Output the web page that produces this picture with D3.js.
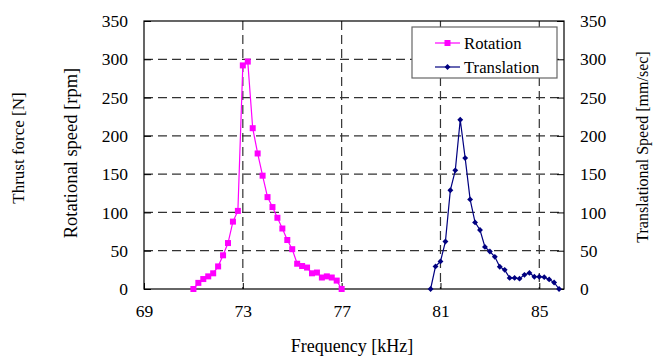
<!DOCTYPE html>
<html>
<head>
<meta charset="utf-8">
<script src="https://cdn.jsdelivr.net/npm/d3@7"></script>
<style>
  body { margin: 0; background: #fff; }
</style>
</head>
<body>
<script>
// values
var rotFreq = [71.0, 71.2, 71.4, 71.6, 71.8, 72.0, 72.2, 72.4, 72.6, 72.8,
               73.0, 73.2, 73.4, 73.6, 73.8, 74.0, 74.2, 74.4, 74.6, 74.8,
               75.0, 75.2, 75.4, 75.6, 75.8, 76.0, 76.2, 76.4, 76.6, 76.8, 77.0];
var rotSpeed = [0, 8, 13, 16.5, 20.5, 29.5, 44, 60, 88, 102,
                292, 297, 210, 177, 148, 120, 107, 93, 79, 64,
                52, 33, 30, 28, 20.5, 21.5, 15, 16.5, 15, 11, 0];

var transFreq = [80.6, 80.8, 81.0, 81.2, 81.4, 81.6, 81.8, 82.0, 82.2, 82.4,
                 82.6, 82.8, 83.0, 83.2, 83.4, 83.6, 83.8, 84.0, 84.2, 84.4,
                 84.6, 84.8, 85.0, 85.2, 85.4, 85.6, 85.8];
var transSpeed = [0, 29.5, 36, 62, 129, 155, 221, 171, 117, 87,
                  77, 55, 49, 42, 29, 25, 14.5, 14.5, 13.5, 18.5,
                  21, 16, 16, 15.5, 12.5, 8.5, 0];

var xTicks = [69, 73, 77, 81, 85];
var yTicks = [0, 50, 100, 150, 200, 250, 300, 350];
var seriesNames = ["Rotation", "Translation"];
var seriesColors = ["#ff00ff", "#000080"];

var width = 658
  , height = 356
  , plotL = 144
  , plotR = 564
  , plotT = 21
  , plotB = 289
  , serif = "'Liberation Serif', 'DejaVu Serif', serif"
  ;

var svg = d3.select("body").append("svg")
    .attr("width", width)
    .attr("height", height)
    .style("font-family", serif);

var x = d3.scaleLinear().domain([69, 86]).range([plotL, plotR]);
var y = d3.scaleLinear().domain([0, 350]).range([plotB, plotT]);

// dashed grid
svg.append("g").selectAll("line")
    .data(xTicks.filter(function (d) { return d > 69; }))
    .enter().append("line")
    .attr("x1", function (d) { return x(d); })
    .attr("x2", function (d) { return x(d); })
    .attr("y1", plotT)
    .attr("y2", plotB)
    .attr("stroke", "#333")
    .attr("stroke-width", 1.2)
    .attr("stroke-dasharray", "9,5");

svg.append("g").selectAll("line")
    .data(yTicks.filter(function (d) { return d > 0 && d < 350; }))
    .enter().append("line")
    .attr("x1", plotL)
    .attr("x2", plotR)
    .attr("y1", function (d) { return y(d); })
    .attr("y2", function (d) { return y(d); })
    .attr("stroke", "#333")
    .attr("stroke-width", 1.2)
    .attr("stroke-dasharray", "9,5");

// axes with inward ticks
var fs = "17.5px";

var xAxis = svg.append("g")
    .attr("transform", "translate(0," + plotB + ")")
    .call(d3.axisBottom(x).tickValues(xTicks).tickSize(-6).tickPadding(16));

var yLeft = svg.append("g")
    .attr("transform", "translate(" + plotL + ",0)")
    .call(d3.axisLeft(y).tickValues(yTicks).tickSize(-7).tickPadding(16));

var yRight = svg.append("g")
    .attr("transform", "translate(" + plotR + ",0)")
    .call(d3.axisRight(y).tickValues(yTicks).tickSize(-7).tickPadding(16));

[xAxis, yLeft, yRight].forEach(function (g) {
    g.attr("font-family", serif).attr("font-size", fs);
    g.select(".domain").remove();
    g.selectAll("line").attr("stroke", "#000");
    g.selectAll("text").attr("fill", "#000");
});

// frame
svg.append("rect")
    .attr("x", plotL)
    .attr("y", plotT)
    .attr("width", plotR - plotL)
    .attr("height", plotB - plotT)
    .attr("fill", "none")
    .attr("stroke", "#000")
    .attr("stroke-width", 1.2);

// series
var line = d3.line()
    .x(function (d) { return x(d[0]); })
    .y(function (d) { return y(d[1]); });

var rot = d3.zip(rotFreq, rotSpeed)
  , trans = d3.zip(transFreq, transSpeed)
  ;

svg.append("path")
    .datum(rot)
    .attr("d", line)
    .attr("fill", "none")
    .attr("stroke", seriesColors[0])
    .attr("stroke-width", 1.2);

svg.append("g").selectAll("rect")
    .data(rot)
    .enter().append("rect")
    .attr("x", function (d) { return x(d[0]) - 3; })
    .attr("y", function (d) { return y(d[1]) - 3; })
    .attr("width", 6)
    .attr("height", 6)
    .attr("fill", seriesColors[0]);

svg.append("path")
    .datum(trans)
    .attr("d", line)
    .attr("fill", "none")
    .attr("stroke", seriesColors[1])
    .attr("stroke-width", 1.2);

var diamond = d3.symbol().type(d3.symbolDiamond2).size(22);

svg.append("g").selectAll("path")
    .data(trans)
    .enter().append("path")
    .attr("transform", function (d) { return "translate(" + x(d[0]) + "," + y(d[1]) + ")"; })
    .attr("d", diamond)
    .attr("fill", seriesColors[1]);

// legend
var legend = svg.append("g");
legend.append("rect")
    .attr("x", 412)
    .attr("y", 27)
    .attr("width", 145)
    .attr("height", 51)
    .attr("fill", "#fff")
    .attr("stroke", "#666")
    .attr("stroke-width", 1.2);

seriesNames.forEach(function (name, i) {
    var ly = 43 + i * 24;
    legend.append("line")
        .attr("x1", 435).attr("x2", 460)
        .attr("y1", ly).attr("y2", ly)
        .attr("stroke", seriesColors[i])
        .attr("stroke-width", 1.2);
    if (i === 0) {
        legend.append("rect")
            .attr("x", 444.5).attr("y", ly - 3)
            .attr("width", 6).attr("height", 6)
            .attr("fill", seriesColors[i]);
    } else {
        legend.append("path")
            .attr("transform", "translate(447.5," + ly + ")")
            .attr("d", diamond)
            .attr("fill", seriesColors[i]);
    }
    legend.append("text")
        .attr("x", 464)
        .attr("y", ly)
        .attr("dy", "0.35em")
        .style("font-size", "16.7px")
        .text(name);
});

// axis titles
svg.append("text")
    .attr("x", 352)
    .attr("y", 352)
    .attr("text-anchor", "middle")
    .style("font-size", "18px")
    .text("Frequency [kHz]");

svg.append("text")
    .attr("transform", "translate(24,148) rotate(-90)")
    .attr("text-anchor", "middle")
    .style("font-size", "17px")
    .text("Thrust force [N]");

svg.append("text")
    .attr("transform", "translate(77,153) rotate(-90)")
    .attr("text-anchor", "middle")
    .style("font-size", "18.5px")
    .text("Rotational speed [rpm]");

svg.append("text")
    .attr("transform", "translate(648,147) rotate(-90)")
    .attr("text-anchor", "middle")
    .style("font-size", "16px")
    .text("Translational Speed [mm/sec]");
</script>
</body>
</html>
